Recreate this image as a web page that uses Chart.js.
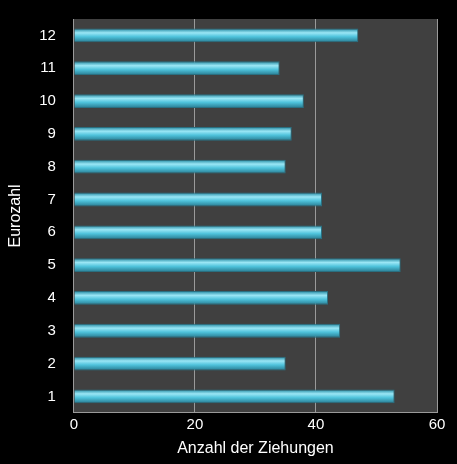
<!DOCTYPE html>
<html lang="de">
<head>
<meta charset="UTF-8">
<script src="https://cdn.jsdelivr.net/npm/chart.js"></script>
<style>
  html, body { margin: 0; background: #000; }
  #wrap { width: 457px; height: 464px; }
</style>
</head>
<body>
<div id="wrap"><canvas id="chart"></canvas></div>
<script>
const categories = ['1', '2', '3', '4', '5', '6', '7', '8', '9', '10', '11', '12'];
const draws = [53, 35, 44, 42, 54, 41, 41, 35, 36, 38, 34, 47];

// dark plot area behind the bars
const plotBg = {
  id: 'plotBg',
  beforeDraw(chart) {
    const a = chart.chartArea, ctx = chart.ctx;
    ctx.save();
    ctx.fillStyle = '#404040';
    ctx.fillRect(a.left, a.top, a.right - a.left, a.bottom - a.top);
    ctx.restore();
  }
};

const ctx = document.getElementById('chart').getContext('2d');
new Chart(ctx, {
  type: 'bar',
  data: {
    labels: categories,
    datasets: [{
      data: draws,
      backgroundColor: (c) => {
        const chart = c.chart;
        if (!chart.chartArea || !chart.scales.y) return '#4fc3dc';
        const y = chart.scales.y.getPixelForValue(c.dataIndex);
        const h = 13;
        const g = chart.ctx.createLinearGradient(0, y - h / 2, 0, y + h / 2);
        g.addColorStop(0, '#2a8ea6');
        g.addColorStop(0.3, '#9ae6f5');
        g.addColorStop(0.6, '#4fc3dc');
        g.addColorStop(1, '#2a7f95');
        return g;
      },
      borderColor: '#2a6f80',
      borderWidth: 1,
      barPercentage: 0.42,
      categoryPercentage: 1
    }]
  },
  options: {
    indexAxis: 'y',
    responsive: true,
    maintainAspectRatio: false,
    animation: false,
    layout: { padding: { top: 2, right: 20, left: 2, bottom: 2 } },
    plugins: { legend: { display: false }, tooltip: { enabled: false } },
    scales: {
      x: {
        min: 0, max: 60,
        ticks: { stepSize: 20, color: '#fff', font: { family: 'Liberation Sans', size: 15 } },
        grid: { color: '#9a9a9a', drawTicks: false },
        border: { color: '#9a9a9a' },
        title: { display: true, text: 'Anzahl der Ziehungen', color: '#fff', padding: { top: 2, bottom: 4 }, font: { family: 'Liberation Sans', size: 16 } }
      },
      y: {
        reverse: true,
        ticks: { color: '#fff', padding: 10, font: { family: 'Liberation Sans', size: 15 } },
        grid: { display: false },
        border: { color: '#9a9a9a' },
        title: { display: true, text: 'Eurozahl', color: '#fff', font: { family: 'Liberation Sans', size: 16 } }
      }
    }
  },
  plugins: [plotBg]
});
</script>
</body>
</html>
